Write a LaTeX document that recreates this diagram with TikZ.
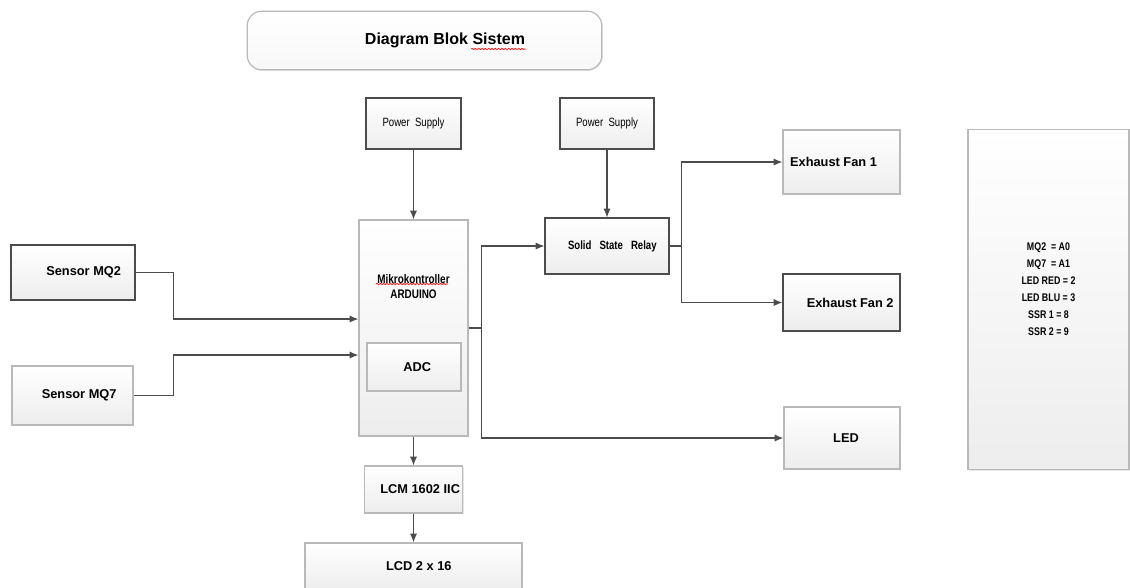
\documentclass[tikz,border=0pt]{standalone}
\usepackage{fontspec}
\setmainfont{Liberation Sans}
\usetikzlibrary{arrows.meta,shadows,decorations.pathmorphing}
\newcommand{\sempit}[1]{\scalebox{0.8}[1]{#1}}

\begin{document}
\begin{tikzpicture}[x=0.75pt, y=-0.75pt, >={Latex[length=2.3mm,width=1.9mm]},
	every node/.style={font=\bfseries\fontsize{9.6}{11.5}\selectfont},
	kotak/.style={draw=gray!55, line width=0.9pt, top color=white, bottom color=gray!14, inner sep=2pt,
		drop shadow={shadow xshift=0.8pt, shadow yshift=-0.8pt, opacity=0.2}},
	kotakgelap/.style={kotak, draw=black!70},
	panah/.style={->, draw=black!70, line width=0.9pt},
	garis/.style={draw=black!70, line width=0.9pt},
	salah/.style={red, line width=0.5pt, decorate, decoration={snake, amplitude=0.5pt, segment length=2.5pt}}]
	\useasboundingbox (0,0) rectangle (1130,587);
	\node[kotak, rounded corners=11pt, minimum width=266pt, minimum height=44pt, bottom color=gray!6] (judul) at (424.5,40.5) {};
	\node[font=\bfseries\fontsize{12}{14}\selectfont] (judulteks) at (445,40) {Diagram Blok Sistem};
	\draw[salah] (471,49) -- (526,49);
	\node[kotakgelap, minimum width=71.25pt, minimum height=38.25pt, font=\fontsize{9}{11}\selectfont] (ps1) at (413.5,123.5) {\sempit{Power~~Supply}};
	\node[kotakgelap, minimum width=70.5pt, minimum height=38.25pt, font=\fontsize{9}{11}\selectfont] (ps2) at (607,123.5) {\sempit{Power~~Supply}};
	\node[kotak, minimum width=81.75pt, minimum height=162pt,
		label={[anchor=north, yshift=-38pt, align=center, font=\bfseries\fontsize{9.3}{11}\selectfont]north:{\sempit{Mikrokontroller}\\\sempit{ARDUINO}}}] (mikro) at (413.5,328) {};
	\draw[salah] (376,284) -- (448,284);
	\node[kotak, minimum width=70.5pt, minimum height=36pt] (adc) at (414,367) {\hspace*{5pt}ADC};
	\node[kotakgelap, minimum width=93pt, minimum height=42pt, font=\bfseries\fontsize{9}{11}\selectfont] (ssr) at (607,246) {\hspace*{8pt}\sempit{Solid~~~State~~~Relay}};
	\node[kotak, minimum width=87.75pt, minimum height=48pt] (fan1) at (841.5,162) {Exhaust Fan 1\hspace*{12pt}};
	\node[kotakgelap, minimum width=87.75pt, minimum height=42.75pt] (fan2) at (841.5,302.5) {\hspace*{13pt}Exhaust Fan 2};
	\node[kotak, minimum width=87pt, minimum height=46.5pt] (led) at (842,438) {\hspace*{6pt}LED};
	\node[kotak, minimum width=120.75pt, minimum height=255pt, align=center, font=\bfseries\fontsize{8.3}{12.75}\selectfont] (pin) at (1048.5,299.5)
		{\sempit{MQ2~~= A0}\\\sempit{MQ7~~= A1}\\\sempit{LED RED = 2}\\\sempit{LED BLU = 3}\\\sempit{SSR 1 = 8}\\\sempit{SSR 2 = 9}\\[3pt]};
	\node[kotakgelap, minimum width=93pt, minimum height=41.25pt] (mq2) at (73,272.5) {\hspace*{16pt}Sensor MQ2};
	\node[kotak, minimum width=90.75pt, minimum height=44.25pt] (mq7) at (72.5,395.5) {\hspace*{10pt}Sensor MQ7};
	\node[kotak, minimum width=70.5pt, minimum height=35.25pt] (lcm) at (413.5,489.5) {\hspace*{10pt}LCM 1602 IIC};
	\node[kotak, minimum width=162.75pt, minimum height=34.5pt] (lcd) at (413.5,566) {\hspace*{8pt}LCD 2 x 16};
	\draw[panah] (ps1) -- (mikro);
	\draw[panah] (ps2) -- (ssr);
	\draw[panah] (mikro) -- (lcm);
	\draw[panah] (lcm) -- (lcd);
	\draw[panah] (mq2.east) -- ++(38,0) |- ([yshift=6.75pt]mikro.west);
	\draw[panah] (mq7.east) -- ++(40,0) |- ([yshift=-20.25pt]mikro.west);
	\draw[garis] (mikro.east) -- ++(13,0) coordinate (cabang1);
	\draw[panah] (cabang1) |- (ssr.west);
	\draw[panah] (cabang1) |- (led.west);
	\draw[garis] (ssr.east) -- ++(12,0) coordinate (cabang2);
	\draw[panah] (cabang2) |- (fan1.west);
	\draw[panah] (cabang2) |- (fan2.west);
\end{tikzpicture}
\end{document}
